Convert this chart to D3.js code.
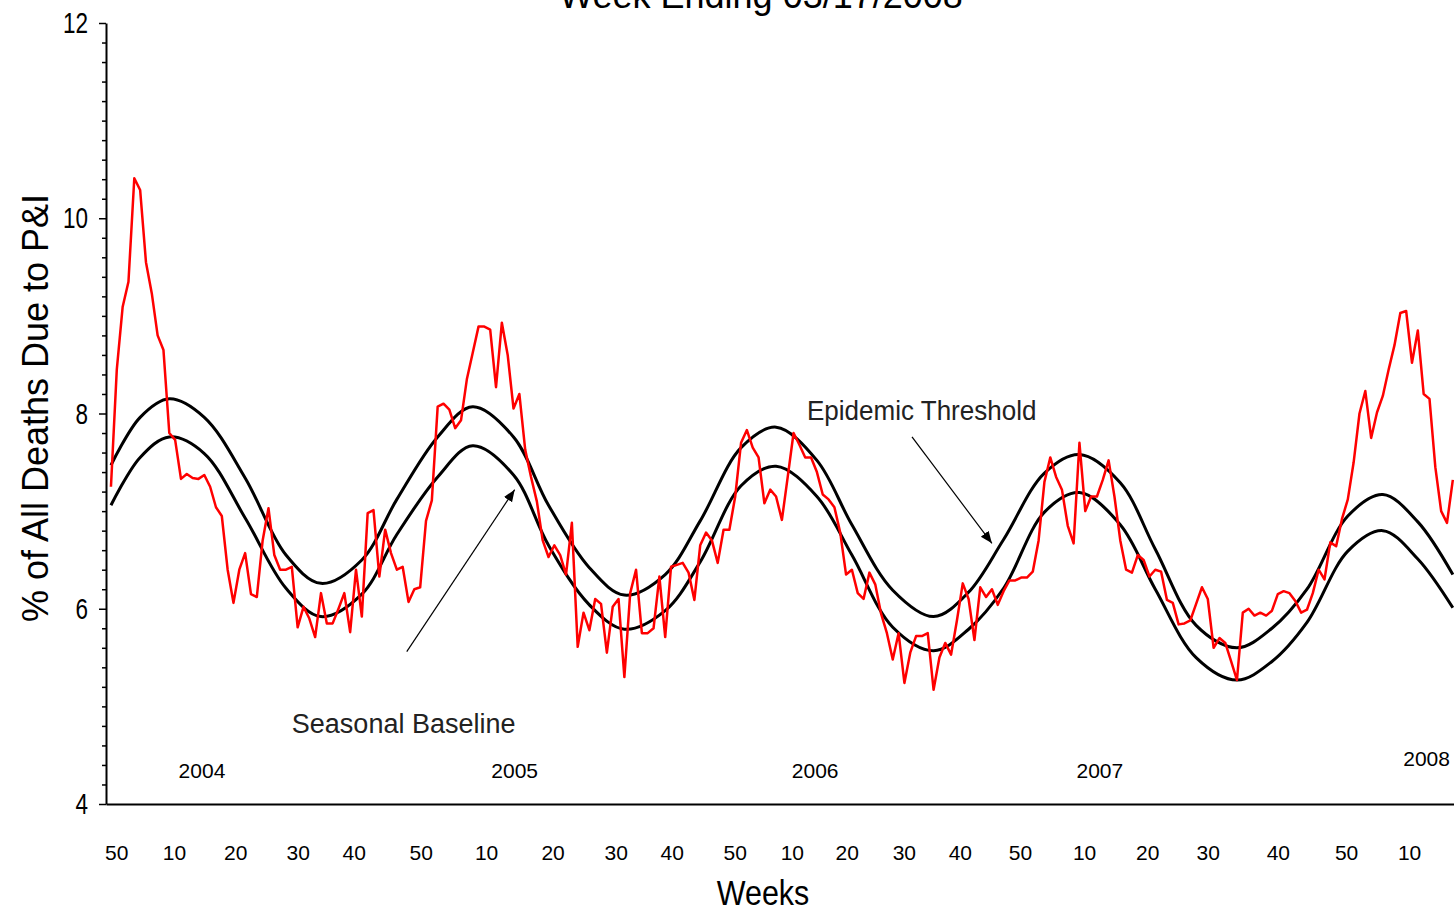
<!DOCTYPE html>
<meta charset="utf-8">
<title>Pneumonia and Influenza Mortality</title>
<style>

	body {
		margin: 0;
		background-color: white
	}

	text {
		font-family: "Liberation Sans", Arial, sans-serif;
		fill: #000;
	}

	.axis path, .axis line {
		stroke: #000;
	}

	.pi-line {
		fill: none;
		stroke: #ff0000;
		stroke-width: 2.5px;
		stroke-linejoin: round;
	}

	.season-line {
		fill: none;
		stroke: #000;
		stroke-width: 3px;
	}

</style>
<svg width="1454" height="911"></svg>
<script src="https://d3js.org/d3.v7.min.js"></script>
<script>
      // weekly % of all deaths due to pneumonia & influenza (week 0 = first week plotted)
      var piPercent = [
        7.25, 8.45, 9.09, 9.35, 10.41, 10.29, 9.55, 9.23, 8.80, 8.65,
        7.80, 7.73, 7.33, 7.38, 7.34, 7.33, 7.37, 7.25, 7.04, 6.95,
        6.40, 6.06, 6.40, 6.57, 6.15, 6.12, 6.70, 7.03, 6.55, 6.40,
        6.40, 6.43, 5.81, 6.02, 5.90, 5.71, 6.16, 5.85, 5.85, 6.00,
        6.16, 5.76, 6.40, 5.92, 6.98, 7.01, 6.33, 6.81, 6.57, 6.40,
        6.43, 6.07, 6.20, 6.22, 6.90, 7.11, 8.07, 8.10, 8.04, 7.85,
        7.93, 8.35, 8.62, 8.89, 8.89, 8.86, 8.27, 8.93, 8.60, 8.05,
        8.20, 7.63, 7.35, 7.10, 6.70, 6.53, 6.65, 6.55, 6.35, 6.88,
        5.61, 5.96, 5.78, 6.10, 6.05, 5.55, 6.02, 6.10, 5.30, 6.16,
        6.40, 5.75, 5.75, 5.80, 6.33, 5.71, 6.43, 6.45, 6.47, 6.37,
        6.09, 6.65, 6.78, 6.70, 6.47, 6.81, 6.81, 7.15, 7.70, 7.83,
        7.65, 7.55, 7.08, 7.22, 7.15, 6.91, 7.35, 7.80, 7.68, 7.55,
        7.55, 7.40, 7.17, 7.12, 7.04, 6.78, 6.35, 6.40, 6.16, 6.10,
        6.37, 6.25, 5.95, 5.75, 5.48, 5.75, 5.24, 5.55, 5.72, 5.72,
        5.75, 5.17, 5.50, 5.65, 5.53, 5.88, 6.26, 6.10, 5.68, 6.22,
        6.12, 6.20, 6.04, 6.18, 6.29, 6.29, 6.32, 6.32, 6.38, 6.70,
        7.30, 7.55, 7.35, 7.22, 6.85, 6.67, 7.70, 7.00, 7.15, 7.15,
        7.32, 7.52, 7.15, 6.70, 6.40, 6.37, 6.55, 6.50, 6.33, 6.40,
        6.38, 6.09, 6.06, 5.84, 5.85, 5.88, 6.05, 6.22, 6.10, 5.60,
        5.70, 5.65, 5.46, 5.27, 5.96, 6.00, 5.93, 5.96, 5.93, 5.98,
        6.15, 6.18, 6.16, 6.08, 5.96, 5.99, 6.16, 6.40, 6.30, 6.68,
        6.64, 6.92, 7.12, 7.50, 8.00, 8.23, 7.75, 8.01, 8.18, 8.45,
        8.70, 9.03, 9.05, 8.52, 8.85, 8.20, 8.15, 7.45, 7.00, 6.88,
        7.32
      ];

      // seasonal curves, read at these weeks
      var curveWeeks = [0, 5, 10, 16, 23, 30, 36, 43, 49, 56, 62, 69, 75, 82, 88, 95, 101, 108, 114,
                        121, 127, 134, 141, 147, 153, 160, 166, 173, 179, 186, 193, 199, 205, 212, 218, 224, 230];
      var threshold = [7.47, 7.96, 8.15, 7.96, 7.34, 6.55, 6.26, 6.50, 7.12, 7.76, 8.07, 7.76, 7.06, 6.42, 6.14, 6.35, 6.90, 7.65, 7.86,
                       7.52, 6.86, 6.19, 5.92, 6.17, 6.71, 7.39, 7.58, 7.29, 6.61, 5.83, 5.60, 5.80, 6.20, 6.95, 7.17, 6.89, 6.35];
      var baseline = [7.06, 7.55, 7.76, 7.59, 6.93, 6.21, 5.92, 6.15, 6.76, 7.35, 7.67, 7.37, 6.65, 6.04, 5.79, 5.98, 6.48, 7.26, 7.46,
                      7.15, 6.55, 5.81, 5.57, 5.79, 6.21, 6.99, 7.19, 6.86, 6.20, 5.50, 5.27, 5.46, 5.86, 6.59, 6.80, 6.51, 6.01];

      // week-number labels under the axis
      var weekTicks = [0.9, 10.8, 21.3, 32, 41.6, 53.1, 64.3, 75.7, 86.5, 96.1, 106.9, 116.7, 126.1, 135.9, 145.5,
                       155.8, 166.8, 177.6, 188, 200, 211.7, 222.5];
      var weekLabels = ["50", "10", "20", "30", "40", "50", "10", "20", "30", "40", "50", "10", "20", "30", "40",
                        "50", "10", "20", "30", "40", "50", "10"];

      var years = ["2004", "2005", "2006", "2007", "2008"];
      var yearWeeks = [15.6, 69.2, 120.7, 169.5, 225.5];
      var yearLevels = [4.27, 4.27, 4.27, 4.27, 4.39];

      var yTicks = [4, 6, 8, 10, 12];

      var svg = d3.select("svg"),
          width = +svg.attr("width"),
          height = +svg.attr("height");

      var margin = {top: 23, right: 0, bottom: 107, left: 106};

      var x = d3.scaleLinear()
                .domain([-0.85, 230.2])
                .range([margin.left, width - margin.right]);

      var y = d3.scaleLinear()
                .domain([4, 12])
                .range([height - margin.bottom, margin.top]);

      // title, mostly above the visible area
      svg.append("text")
         .attr("x", 761)
         .attr("y", 8)
         .attr("text-anchor", "middle")
         .style("font-size", "36px")
         .text("Week Ending 03/17/2008");

      // y axis: minor ticks every 0.2, then labelled majors
      var minor = d3.range(40, 121, 2).map(function(d) { return d / 10; })
                    .filter(function(d) { return yTicks.indexOf(d) < 0; });

      svg.append("g")
         .attr("class", "axis")
         .attr("transform", "translate(" + margin.left + ",0)")
         .call(d3.axisLeft(y).tickValues(minor).tickSize(4).tickFormat(""))
         .call(function(g) { g.select(".domain").remove(); })
         .selectAll("line").attr("stroke-width", 1.5);

      var yAxis = svg.append("g")
         .attr("class", "axis")
         .attr("transform", "translate(" + margin.left + ",0)")
         .call(d3.axisLeft(y).tickValues(yTicks).tickSize(7).tickSizeOuter(0).tickFormat(d3.format("d")));

      yAxis.select(".domain").attr("stroke-width", 2);
      yAxis.selectAll("line").attr("stroke-width", 1.5);
      yAxis.selectAll("text")
           .attr("x", -24)
           .attr("transform", "scale(0.75,1)")
           .style("font-size", "30px");

      // x axis: plain line with week labels
      var xAxis = svg.append("g")
         .attr("class", "axis")
         .attr("transform", "translate(0," + y(4) + ")")
         .call(d3.axisBottom(x)
                 .tickValues(weekTicks)
                 .tickSize(0)
                 .tickPadding(41)
                 .tickFormat(function(d, i) { return weekLabels[i]; }));

      xAxis.select(".domain").attr("stroke-width", 2);
      xAxis.selectAll("text").style("font-size", "21px");

      // year labels
      svg.append("g")
         .selectAll("text")
         .data(years)
         .enter().append("text")
         .attr("x", function(d, i) { return x(yearWeeks[i]); })
         .attr("y", function(d, i) { return y(yearLevels[i]); })
         .attr("text-anchor", "middle")
         .style("font-size", "21px")
         .text(function(d) { return d; });

      // axis titles
      svg.append("text")
         .attr("transform", "translate(763,905) scale(0.87,1)")
         .attr("text-anchor", "middle")
         .style("font-size", "35px")
         .text("Weeks");

      svg.append("text")
         .attr("transform", "translate(48,408) rotate(-90)")
         .attr("text-anchor", "middle")
         .style("font-size", "36px")
         .text("% of All Deaths Due to P&I");

      // seasonal baseline and epidemic threshold
      var seasonal = d3.line()
                       .x(function(d, i) { return x(curveWeeks[i]); })
                       .y(function(d) { return y(d); })
                       .curve(d3.curveCatmullRom);

      svg.append("path")
         .datum(threshold)
         .attr("class", "season-line")
         .attr("d", seasonal);

      svg.append("path")
         .datum(baseline)
         .attr("class", "season-line")
         .attr("d", seasonal);

      // observed P&I
      var weekly = d3.line()
                     .x(function(d, i) { return x(i); })
                     .y(function(d) { return y(d); });

      svg.append("path")
         .datum(piPercent)
         .attr("class", "pi-line")
         .attr("d", weekly);

      // annotations with arrows
      svg.append("defs").append("marker")
         .attr("id", "arrow")
         .attr("viewBox", "0 0 10 10")
         .attr("refX", 10)
         .attr("refY", 5)
         .attr("markerWidth", 12)
         .attr("markerHeight", 12)
         .attr("markerUnits", "userSpaceOnUse")
         .attr("orient", "auto")
         .append("path")
         .attr("d", "M0,1L10,5L0,9z")
         .attr("fill", "#000");

      var notes = [
        {label: "Epidemic Threshold", tx: 119.3, ty: 7.93, x1: 137.3, y1: 7.76, x2: 151.0, y2: 6.67, size: 28, sx: 0.93},
        {label: "Seasonal Baseline", tx: 31.0, ty: 4.73, x1: 50.7, y1: 5.56, x2: 69.2, y2: 7.22, size: 27, sx: 1}
      ];

      notes.forEach(function(n) {
        svg.append("text")
           .attr("transform", "translate(" + x(n.tx) + "," + y(n.ty) + ") scale(" + n.sx + ",1)")
           .style("font-size", n.size + "px")
           .style("fill", "#222")
           .text(n.label);

        svg.append("line")
           .attr("x1", x(n.x1))
           .attr("y1", y(n.y1))
           .attr("x2", x(n.x2))
           .attr("y2", y(n.y2))
           .attr("stroke", "#000")
           .attr("stroke-width", 1.2)
           .attr("marker-end", "url(#arrow)");
      });

</script>
